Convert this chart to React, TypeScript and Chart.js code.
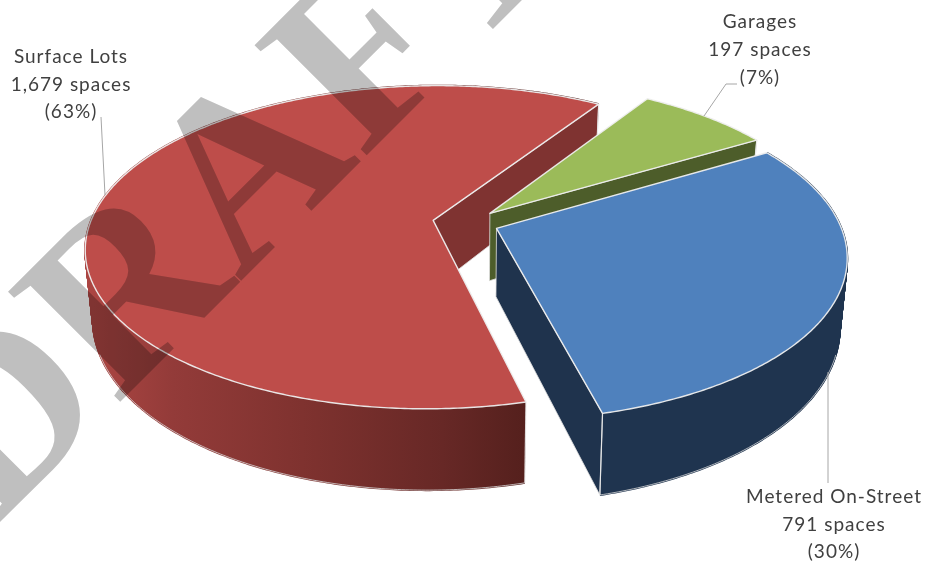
import React, { useEffect, useRef } from "react";
import { Chart, registerables } from "chart.js";

Chart.register(...registerables);

// ---- data ----
const categories = ["Garages", "Metered On-Street", "Surface Lots"];
const spaces = [197, 791, 1679];
const percents = [7, 30, 63];
const watermark = "DRAFT";

// ---- style ----
const topColors = ["#9bbb59", "#4f81bd", "#be4d4a"];
const faceColors = ["#4d5d2a", "#1f334d", "#7f3331"];
const explode = [23.5, 23.5, 28];
const wallStops: [number, string][][] = [
  [[0, "#4d5d2a"], [1, "#4d5d2a"]],
  [[0, "#1f344f"], [1, "#1f344f"]],
  [[0, "#55201d"], [0.19, "#672826"], [0.515, "#7f322f"], [0.815, "#933b39"], [1, "#ab4542"]],
];
const drawOrder = [2, 0, 1];
const view = { cx: 468.5, cy: 223, A: 343, B: 158, p: 1 / 6, depth: 68, taper: 0.98 };
const labelLayout = [
  { x: 760, y: [28, 56, 84], leader: [[737, 84], [726, 84], [704, 116]] },
  { x: 834, y: [503, 531, 558], leader: [[828, 372], [828, 483]] },
  { x: 71, y: [63, 91, 118], leader: [[101, 117], [105, 195]] },
];

function project(u: number, v: number, z: number) {
  const w = 1 - view.p * v;
  const k = 1 - z * (1 - view.taper);
  return [view.cx + (k * view.A * u) / w, view.cy + (view.B * v + z * view.depth) / w];
}

const pie3d = {
  id: "pie3d",
  beforeDatasetDraw(chart: any) {
    const ctx: CanvasRenderingContext2D = chart.ctx;
    const arcs = chart.getDatasetMeta(0).data;
    for (const i of drawOrder) {
      const el = arcs[i];
      const R = el.outerRadius;
      const a0 = el.startAngle;
      const a1 = el.endAngle;
      const mid = (a0 + a1) / 2;
      const off = el.options.offset / R;
      const u0 = Math.cos(mid) * off;
      const v0 = Math.sin(mid) * off;
      const rim: [number, number][] = [];
      const n = Math.ceil((a1 - a0) / 0.01);
      for (let k = 0; k <= n; k++) {
        const a = a0 + ((a1 - a0) * k) / n;
        rim.push([u0 + Math.cos(a), v0 + Math.sin(a)]);
      }
      const path = (pts: number[][], close = true) => {
        ctx.beginPath();
        pts.forEach((p, k) => (k ? ctx.lineTo(p[0], p[1]) : ctx.moveTo(p[0], p[1])));
        if (close) ctx.closePath();
      };
      const apex = [u0, v0];
      ctx.save();
      ctx.lineJoin = "round";
      // outer wall: rim swept from the top to the bottom, so the tapered silhouette stays filled
      const topPts = rim.map((p) => project(p[0], p[1], 0));
      const botPts = rim.map((p) => project(p[0], p[1], 1));
      const xs = botPts.map((p) => p[0]);
      const g = ctx.createLinearGradient(botPts[0][0], 0, Math.min(...xs), 0);
      wallStops[i].forEach(([s, c]) => g.addColorStop(s, c));
      ctx.strokeStyle = g;
      ctx.lineWidth = 2;
      for (let s = 0; s <= 100; s++) {
        path(rim.map((p) => project(p[0], p[1], s / 100)), false);
        ctx.stroke();
      }
      // pale outline only along the front of the bottom rim
      const front = rim.filter((p) => p[1] > 0.35).map((p) => project(p[0], p[1], 1));
      if (front.length > 1) {
        path(front, false);
        ctx.strokeStyle = "rgba(215,215,215,0.8)";
        ctx.lineWidth = 1;
        ctx.stroke();
      }
      // cut face at the end of the sweep (the one that faces the viewer)
      const end = rim[rim.length - 1];
      path([
        project(apex[0], apex[1], 0),
        project(end[0], end[1], 0),
        project(end[0], end[1], 1),
        project(apex[0], apex[1], 1),
      ]);
      ctx.fillStyle = faceColors[i];
      ctx.fill();
      ctx.strokeStyle = "rgba(225,225,225,0.8)";
      ctx.lineWidth = 1;
      ctx.stroke();
      // corner edges
      for (const c of [rim[0], end]) {
        path([project(c[0], c[1], 0), project(c[0], c[1], 1)], false);
        ctx.strokeStyle = "rgba(235,235,235,0.9)";
        ctx.lineWidth = 1.2;
        ctx.stroke();
      }
      // top
      path([project(apex[0], apex[1], 0), ...topPts]);
      ctx.fillStyle = el.options.backgroundColor;
      ctx.fill();
      ctx.strokeStyle = "rgba(238,238,238,0.95)";
      ctx.lineWidth = 1.4;
      ctx.stroke();
      ctx.restore();
    }
    return false;
  },
  afterDraw(chart: any) {
    const ctx: CanvasRenderingContext2D = chart.ctx;
    ctx.save();
    // leader lines
    ctx.strokeStyle = "#a6a6a6";
    ctx.lineWidth = 1;
    labelLayout.forEach((l) => {
      ctx.beginPath();
      l.leader.forEach((p, k) => (k ? ctx.lineTo(p[0], p[1]) : ctx.moveTo(p[0], p[1])));
      ctx.stroke();
    });
    // labels
    ctx.fillStyle = "#404040";
    ctx.font = '19px Lato, "Noto Sans", sans-serif';
    ctx.textAlign = "center";
    ctx.textBaseline = "alphabetic";
    (ctx as any).letterSpacing = "1px";
    categories.forEach((name, i) => {
      const lines = [name, `${spaces[i].toLocaleString("en-US")} spaces`, `(${percents[i]}%)`];
      lines.forEach((t, k) => ctx.fillText(t, labelLayout[i].x, labelLayout[i].y[k]));
    });
    // watermark
    ctx.globalCompositeOperation = "multiply";
    ctx.translate(-7, 529);
    ctx.rotate(-Math.PI / 4);
    ctx.fillStyle = "#bfbfbf";
    ctx.font = 'bold 240px "Liberation Serif", serif';
    ctx.textAlign = "left";
    (ctx as any).letterSpacing = "1px";
    (ctx as any).fontKerning = "none";
    ctx.fillText(watermark, 0, 0);
    ctx.restore();
  },
};

export default function App() {
  const ref = useRef<HTMLCanvasElement>(null);
  useEffect(() => {
    document.body.style.margin = "0";
    const chart = new Chart(ref.current as HTMLCanvasElement, {
      type: "pie",
      data: {
        labels: categories,
        datasets: [
          {
            data: spaces,
            backgroundColor: topColors,
            borderWidth: 0,
            offset: explode,
          },
        ],
      },
      options: {
        animation: false,
        responsive: false,
        rotation: 32.5,
        events: [],
        layout: { padding: 0 },
        plugins: { legend: { display: false }, tooltip: { enabled: false }, title: { display: false } },
      },
      plugins: [pie3d],
    } as any);
    return () => chart.destroy();
  }, []);
  return <canvas ref={ref} width={927} height={563} style={{ display: "block" }} />;
}
